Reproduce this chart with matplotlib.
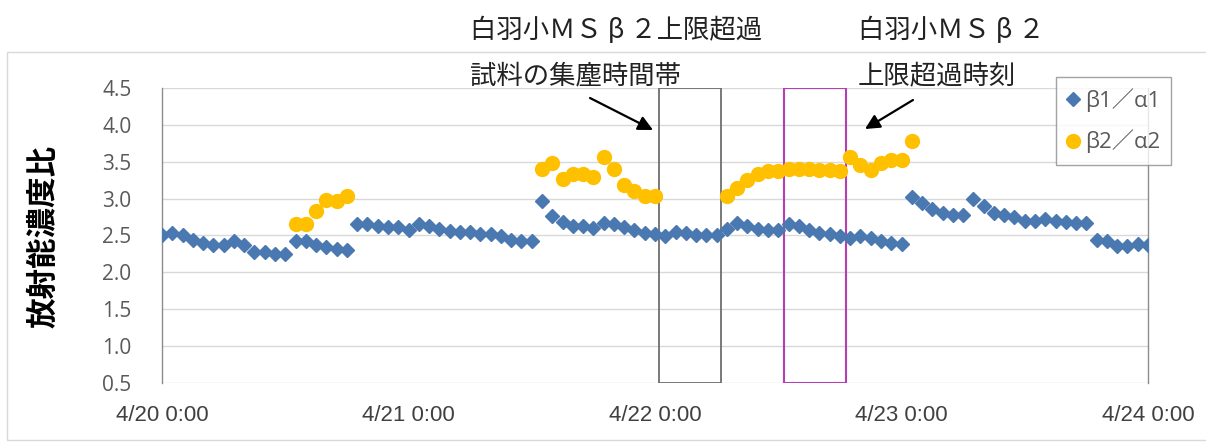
import matplotlib
matplotlib.use("Agg")
import matplotlib.pyplot as plt
from matplotlib.patches import Rectangle
import numpy as np

# ---------------- data ----------------
tick_hours = [0, 24, 48, 72, 96]
tick_labels = ["4/20 0:00", "4/21 0:00", "4/22 0:00", "4/23 0:00", "4/24 0:00"]

b1_hours = list(range(0, 97))
b1_values = [2.50, 2.53, 2.50, 2.44, 2.40, 2.37, 2.37, 2.42, 2.37, 2.28, 2.28, 2.25, 2.25,
             2.42, 2.42, 2.37, 2.34, 2.31, 2.30,
             2.65, 2.66, 2.63, 2.61, 2.61, 2.58, 2.65, 2.63, 2.59, 2.56, 2.55, 2.55, 2.52,
             2.52, 2.49, 2.44, 2.42, 2.42,
             2.97, 2.77, 2.69, 2.63, 2.63, 2.60, 2.67, 2.65, 2.61, 2.58, 2.54, 2.52,
             2.49, 2.55, 2.53, 2.50, 2.50, 2.50, 2.59, 2.67, 2.63, 2.59, 2.57, 2.57,
             2.66, 2.63, 2.57, 2.53, 2.52, 2.49, 2.46, 2.49, 2.46, 2.43, 2.40, 2.38,
             3.02, 2.94, 2.86, 2.81, 2.78, 2.78, 2.99, 2.90, 2.80, 2.78, 2.75, 2.70,
             2.70, 2.73, 2.70, 2.68, 2.67, 2.67, 2.44, 2.42, 2.36, 2.36, 2.38, 2.37]

b2_hours = [13, 14, 15, 16, 17, 18,
            37, 38, 39, 40, 41, 42, 43, 44, 45, 46, 47, 48,
            55, 56, 57, 58, 59, 60, 61, 62, 63, 64, 65, 66, 67, 68, 69, 70, 71, 72, 73]
b2_values = [2.66, 2.66, 2.83, 2.98, 2.97, 3.03,
             3.40, 3.48, 3.27, 3.33, 3.34, 3.29, 3.57, 3.40, 3.19, 3.10, 3.04, 3.04,
             3.04, 3.15, 3.26, 3.34, 3.38, 3.37, 3.40, 3.40, 3.40, 3.39, 3.39, 3.38,
             3.57, 3.46, 3.39, 3.48, 3.53, 3.52, 3.78]

series_names = ["β1／α1", "β2／α2"]

# sampling window boxes (hours from 4/20 0:00)
box_sample = (48.4, 54.4)
box_exceed = (60.6, 66.6)

# ---------------- figure ----------------
W, H = 1206, 442
fig = plt.figure(figsize=(W / 100, H / 100), dpi=100)
fig.patch.set_facecolor("white")

# outer chart border
fig.patches.append(Rectangle((7 / W, 2 / H), (W - 6) / W, (388) / H,
                             transform=fig.transFigure, fill=False,
                             edgecolor="#D9D9D9", lw=1.0))

ax_left, ax_right = 162, 1148
ax_top, ax_bot = 88.3, 382.7
ax = fig.add_axes([ax_left / W, 1 - ax_bot / H, (ax_right - ax_left) / W, (ax_bot - ax_top) / H])

ax.set_xlim(0, 96)
ax.set_ylim(0.5, 4.5)
ax.set_yticks([0.5, 1.0, 1.5, 2.0, 2.5, 3.0, 3.5, 4.0, 4.5])
ax.set_yticklabels(["0.5", "1.0", "1.5", "2.0", "2.5", "3.0", "3.5", "4.0", "4.5"])
ax.set_xticks(tick_hours)
ax.set_xticklabels(tick_labels)

ax.grid(axis="y", color="#D9D9D9", lw=1.0)
ax.set_axisbelow(True)
for s in ["top", "bottom"]:
    ax.spines[s].set_visible(False)
for s in ["left", "right"]:
    ax.spines[s].set_color("#8C8C8C")
    ax.spines[s].set_linewidth(1.0)

ax.tick_params(axis="both", length=0)
ax.tick_params(axis="y", pad=22, labelsize=15, labelcolor="#595959")
ax.tick_params(axis="x", pad=16, labelsize=16, labelcolor="#404040")
for lab in ax.get_yticklabels():
    lab.set_family(["Open Sans", "DejaVu Sans"])
for lab in ax.get_xticklabels():
    lab.set_family(["Liberation Sans", "DejaVu Sans"])

# boxes
ax.add_patch(Rectangle((box_sample[0], 0.5), box_sample[1] - box_sample[0], 4.0,
                       fill=False, edgecolor="#6E6E6E", lw=1.3, zorder=1.5))
ax.add_patch(Rectangle((box_exceed[0], 0.5), box_exceed[1] - box_exceed[0], 4.0,
                       fill=False, edgecolor="#B53DB5", lw=1.5, zorder=1.5))

ax.plot(b1_hours, b1_values, linestyle="none", marker="D", ms=7.5,
        color="#4A78B0", label=series_names[0], zorder=3)
ax.plot(b2_hours, b2_values, linestyle="none", marker="o", ms=10,
        color="#FFC000", label=series_names[1], zorder=4)

# legend
leg = ax.legend(loc="upper left", bbox_to_anchor=(1056 / W, 1 - 77 / H),
                bbox_transform=fig.transFigure, frameon=True, fancybox=False,
                prop={"family": ["Open Sans", "Noto Sans CJK JP", "DejaVu Sans"], "size": 16},
                handlelength=0.5, handletextpad=0.3, borderpad=0.5,
                labelspacing=0.8, borderaxespad=0)
leg.get_frame().set_edgecolor("#8C8C8C")
leg.get_frame().set_linewidth(1.0)
for t in leg.get_texts():
    t.set_color("#595959")

# y label
fig.text(43 / W, 1 - 236 / H, "放射能濃度比", rotation=90, ha="center", va="center",
         fontsize=22, fontweight="bold", family=["Noto Sans CJK JP", "DejaVu Sans"],
         color="#000000")

# annotations
jp = ["Noto Sans CJK JP", "DejaVu Sans"]
fig.text(470 / W, 1 - 30 / H, "白羽小ＭＳ β ２上限超過", ha="left", va="center",
         fontsize=19, family=jp, color="#222222")
fig.text(470 / W, 1 - 76 / H, "試料の集塵時間帯", ha="left", va="center",
         fontsize=19, family=jp, color="#222222")
fig.text(858 / W, 1 - 30 / H, "白羽小ＭＳ β ２", ha="left", va="center",
         fontsize=19, family=jp, color="#222222")
fig.text(858 / W, 1 - 76 / H, "上限超過時刻", ha="left", va="center",
         fontsize=19, family=jp, color="#222222")

arrow_kw = dict(arrowstyle="-|>", color="black", lw=1.6, mutation_scale=22,
                shrinkA=0, shrinkB=0)
ax.annotate("", xy=(653, H - 130), xycoords="figure pixels",
            xytext=(590, H - 98), textcoords="figure pixels", arrowprops=arrow_kw)
ax.annotate("", xy=(865, H - 129), xycoords="figure pixels",
            xytext=(913, H - 100), textcoords="figure pixels", arrowprops=arrow_kw)

fig.savefig("out.png", dpi=100)
